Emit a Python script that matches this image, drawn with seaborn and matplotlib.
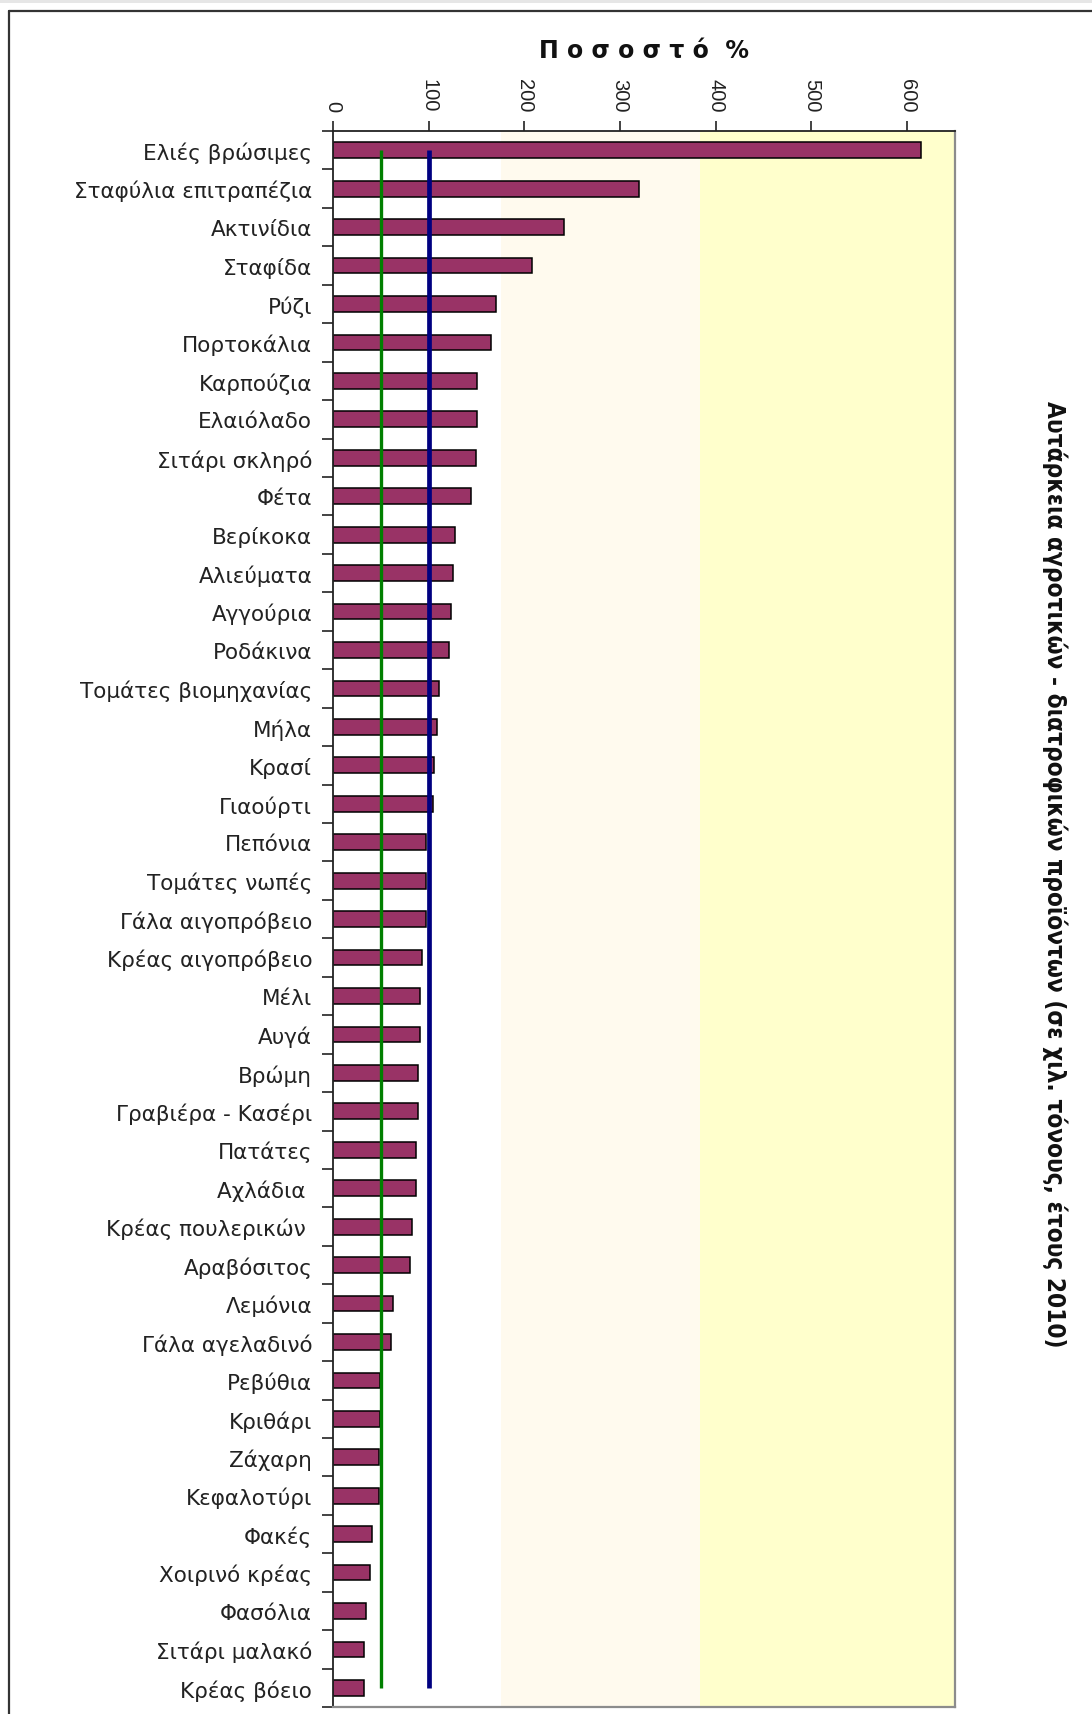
import numpy as np
import matplotlib
matplotlib.use("Agg")
import matplotlib.pyplot as plt
import seaborn as sns
from matplotlib.lines import Line2D
from matplotlib.patches import Rectangle

# data (percent self-sufficiency)
products = ["Ελιές βρώσιμες", "Σταφύλια επιτραπέζια", "Ακτινίδια", "Σταφίδα", "Ρύζι",
            "Πορτοκάλια", "Καρπούζια", "Ελαιόλαδο", "Σιτάρι σκληρό", "Φέτα",
            "Βερίκοκα", "Αλιεύματα", "Αγγούρια", "Ροδάκινα", "Τομάτες βιομηχανίας",
            "Μήλα", "Κρασί", "Γιαούρτι", "Πεπόνια", "Τομάτες νωπές",
            "Γάλα αιγοπρόβειο", "Κρέας αιγοπρόβειο", "Μέλι", "Αυγά", "Βρώμη",
            "Γραβιέρα - Κασέρι", "Πατάτες", "Αχλάδια ", "Κρέας πουλερικών ", "Αραβόσιτος",
            "Λεμόνια", "Γάλα αγελαδινό", "Ρεβύθια", "Κριθάρι", "Ζάχαρη",
            "Κεφαλοτύρι", "Φακές", "Χοιρινό κρέας", "Φασόλια", "Σιτάρι μαλακό",
            "Κρέας βόειο"]
percent = [614, 320, 241, 208, 170,
           165, 150, 150, 149, 144,
           127, 125, 123, 121, 111,
           109, 106, 104, 97, 97,
           97, 93, 91, 91, 89,
           89, 87, 87, 82, 80,
           63, 61, 49, 49, 48,
           48, 41, 39, 34, 32,
           32]
ref_full = 100
ref_half = 50
xticks = [0, 100, 200, 300, 400, 500, 600]

sns.set_theme(style="white")
plt.rcParams['font.family'] = ['DejaVu Sans']

fig = plt.figure(figsize=(10.92, 17.15), dpi=100)
ax = fig.add_axes([0.305, 0.004, 0.5695, 0.919])

# background bands of the plot area
ax.axvspan(176, 384, color="#FFFAEE", lw=0, zorder=0)
ax.axvspan(384, 650, color="#FFFFCC", lw=0, zorder=0)

sns.barplot(x=percent, y=products, orient="h", color="#993366", saturation=1,
            width=0.41, edgecolor="black", linewidth=1.1, ax=ax, zorder=2)

n = len(products)
ax.vlines(ref_half, 0, n - 1, color="#008000", lw=2.4, zorder=3)
ax.vlines(ref_full, 0, n - 1, color="#000080", lw=3.4, zorder=3)

ax.set_xlim(0, 650)
ax.set_ylim(n - 0.5, -0.5)
ax.xaxis.tick_top()
ax.xaxis.set_label_position("top")
ax.set_xticks(xticks)
ax.set_xticklabels([str(t) for t in xticks], rotation=270, fontsize=14.5,
                   family=["Liberation Sans", "DejaVu Sans"], color="#222222")
ax.tick_params(axis="x", direction="out", length=7, width=1.2, pad=7, colors="#222222")
ax.set_xlabel("Π ο σ ο σ τ ό  %", fontsize=17, fontweight="bold", labelpad=15, color="#111111")
ax.set_ylabel("")

ax.set_yticks(range(n))
ax.set_yticklabels(products, fontsize=15.5, color="#222222")
ax.set_yticks(np.arange(-0.5, n), minor=True)
ax.tick_params(axis="y", which="major", length=0, pad=15)
ax.tick_params(axis="y", which="minor", length=8, width=1.2, color="#222222", left=True)

for side in ["top", "left"]:
    ax.spines[side].set_color("#222222")
    ax.spines[side].set_linewidth(1.3)
for side in ["bottom", "right"]:
    ax.spines[side].set_color("#8C8C8C")
    ax.spines[side].set_linewidth(1.6)
ax.grid(False)

fig.text(0.966, 0.49, "Αυτάρκεια αγροτικών - διατροφικών προϊόντων (σε χιλ. τόνους, έτους 2010)",
         rotation=270, ha="center", va="center", fontsize=17.5, fontweight="bold",
         fontstretch="condensed", family=["DejaVu Sans"], color="#111111")

# light strip on top and outer chart frame (left and top edges visible)
fig.add_artist(Rectangle((0, 0.9975), 1, 0.0025, transform=fig.transFigure,
                         color="#E6E6E6", lw=0))
fig.add_artist(Line2D([0.0085, 0.0085], [0.0, 0.993], color="#333333", lw=1.6))
fig.add_artist(Line2D([0.0085, 1.0], [0.993, 0.993], color="#333333", lw=1.6))

fig.savefig("out.png", dpi=100)
